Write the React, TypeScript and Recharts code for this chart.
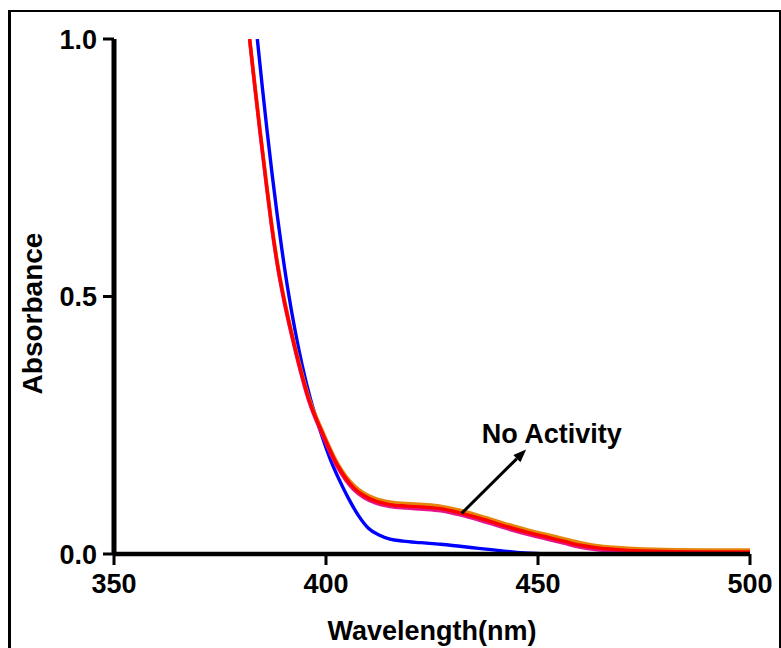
import { LineChart, Line, XAxis, YAxis, ReferenceLine } from "recharts";

const FONT = '"Liberation Sans", Arial, Helvetica, sans-serif';

// absorbance spectra
const xTicks = [350, 400, 450, 500];
const yTicks = [0, 0.5, 1.0];

const blueWl = [383.8, 385.0, 386.1, 387.3, 388.5, 389.5, 391.0, 392.8, 394.4, 396.3, 398.7, 401.4, 403.3, 405.3, 407.7, 410.0, 412.5, 415.1, 418.2, 422.2, 427, 431.6, 436, 440.5, 445, 449.6, 455];
const blueAbs = [1.0, 0.905, 0.822, 0.737, 0.658, 0.597, 0.514, 0.43, 0.366, 0.302, 0.238, 0.176, 0.141, 0.108, 0.074, 0.05, 0.037, 0.029, 0.025, 0.022, 0.019, 0.015, 0.011, 0.007, 0.003, 0.001, 0];

const treatedWl = [382.0, 383.2, 384.4, 385.8, 387.1, 388.5, 390.2, 392.0, 393.6, 395.9, 399.1, 402.6, 406.5, 409, 411.6, 415, 419, 423, 427, 431.6, 436, 440, 444, 448, 452, 456, 460, 464, 468, 475, 490, 500];
const redAbs = [1.0, 0.91, 0.824, 0.728, 0.643, 0.565, 0.49, 0.424, 0.37, 0.302, 0.236, 0.174, 0.129, 0.113, 0.103, 0.096, 0.093, 0.091, 0.088, 0.08, 0.07, 0.06, 0.05, 0.041, 0.033, 0.025, 0.017, 0.012, 0.009, 0.006, 0.004, 0.004];
const orangeAbs = [1.0, 0.914, 0.828, 0.732, 0.647, 0.569, 0.494, 0.428, 0.374, 0.306, 0.24, 0.178, 0.134, 0.118, 0.108, 0.101, 0.098, 0.096, 0.093, 0.085, 0.075, 0.065, 0.055, 0.046, 0.038, 0.03, 0.022, 0.016, 0.013, 0.01, 0.008, 0.008];
const pinkAbs = [0.996, 0.906, 0.82, 0.724, 0.639, 0.561, 0.486, 0.42, 0.366, 0.298, 0.232, 0.17, 0.125, 0.109, 0.099, 0.092, 0.089, 0.087, 0.084, 0.076, 0.066, 0.056, 0.046, 0.037, 0.029, 0.021, 0.013, 0.008, 0.005, 0.003, 0.002, 0.001];

const arrowFrom = { x: 432.0, y: 0.079 };
const arrowTo = { x: 447.2, y: 0.203 };

const toPoints = (wl: number[], abs: number[]) => wl.map((w, i) => ({ w, a: abs[i] }));

const blueData = toPoints(blueWl, blueAbs);
const redData = toPoints(treatedWl, redAbs);
const orangeData = toPoints(treatedWl, orangeAbs);
const pinkData = toPoints(treatedWl, pinkAbs);

const tickStyle = { fill: "#000", fontSize: 27, fontWeight: 700, fontFamily: FONT };

function Arrow(props: any) {
  const { x1, y1, x2, y2 } = props;
  const dx = x2 - x1;
  const dy = y2 - y1;
  const len = Math.hypot(dx, dy);
  const ux = dx / len;
  const uy = dy / len;
  const hl = 13;
  const hw = 5;
  const bx = x2 - ux * hl;
  const by = y2 - uy * hl;
  return (
    <g>
      <line x1={x1} y1={y1} x2={bx} y2={by} stroke="#000" strokeWidth={3} />
      <polygon
        points={`${x2},${y2} ${bx - uy * hw},${by + ux * hw} ${bx + uy * hw},${by - ux * hw}`}
        fill="#000"
      />
      <text x={x2 - 44.3} y={y2 - 6.3} fontSize={27} fontWeight={700} fontFamily={FONT} fill="#000">
        No Activity
      </text>
    </g>
  );
}

function XTitle(props: any) {
  const { viewBox } = props;
  return (
    <text
      x={viewBox.x + viewBox.width / 2}
      y={viewBox.y + 86}
      textAnchor="middle"
      fontSize={27}
      fontWeight={700}
      fontFamily={FONT}
      fill="#000"
    >
      Wavelength(nm)
    </text>
  );
}

function YTitle(props: any) {
  const { viewBox } = props;
  const x = viewBox.x + 41.5;
  const y = viewBox.y + viewBox.height / 2 + 17;
  return (
    <text
      x={x}
      y={y}
      transform={`rotate(-90 ${x} ${y})`}
      textAnchor="middle"
      fontSize={28}
      fontWeight={700}
      fontFamily={FONT}
      fill="#000"
    >
      Absorbance
    </text>
  );
}

export default function App() {
  return (
    <div style={{ position: "absolute", left: 0, top: 0, width: 781, height: 648, overflow: "hidden", background: "#fff" }}>
      <div
        style={{
          position: "absolute",
          left: 8,
          top: 10,
          width: 773,
          height: 700,
          boxSizing: "border-box",
          borderStyle: "solid",
          borderColor: "#000",
          borderWidth: "2px 2px 2px 3px",
        }}
      />
      <div style={{ position: "absolute", left: 0, top: 0 }}>
        <LineChart width={781} height={648} margin={{ top: 39, right: 31, bottom: 0, left: 0 }}>
          <XAxis
            dataKey="w"
            type="number"
            domain={[350, 500]}
            ticks={xTicks}
            allowDataOverflow
            height={94}
            axisLine={{ stroke: "#000", strokeWidth: 4.5 }}
            tickLine={{ stroke: "#000", strokeWidth: 3 }}
            tickSize={11}
            tickMargin={9}
            tick={tickStyle}
            label={<XTitle />}
          />
          <YAxis
            dataKey="a"
            type="number"
            domain={[0, 1]}
            ticks={yTicks}
            allowDataOverflow
            width={114}
            axisLine={{ stroke: "#000", strokeWidth: 5 }}
            tickLine={{ stroke: "#000", strokeWidth: 3 }}
            tickSize={11}
            tickMargin={6}
            tick={tickStyle}
            tickFormatter={(v: number) => v.toFixed(1)}
            label={<YTitle />}
          />
          <Line data={blueData} dataKey="a" type="monotone" stroke="#0000FF" strokeWidth={3.4} dot={false} activeDot={false} isAnimationActive={false} />
          <Line data={pinkData} dataKey="a" type="monotone" stroke="#E5148A" strokeWidth={3.4} dot={false} activeDot={false} isAnimationActive={false} />
          <Line data={orangeData} dataKey="a" type="monotone" stroke="#E3860A" strokeWidth={3.4} dot={false} activeDot={false} isAnimationActive={false} />
          <Line data={redData} dataKey="a" type="monotone" stroke="#FF0000" strokeWidth={3.4} dot={false} activeDot={false} isAnimationActive={false} />
          <ReferenceLine segment={[arrowFrom, arrowTo]} shape={Arrow} ifOverflow="visible" />
        </LineChart>
      </div>
    </div>
  );
}
